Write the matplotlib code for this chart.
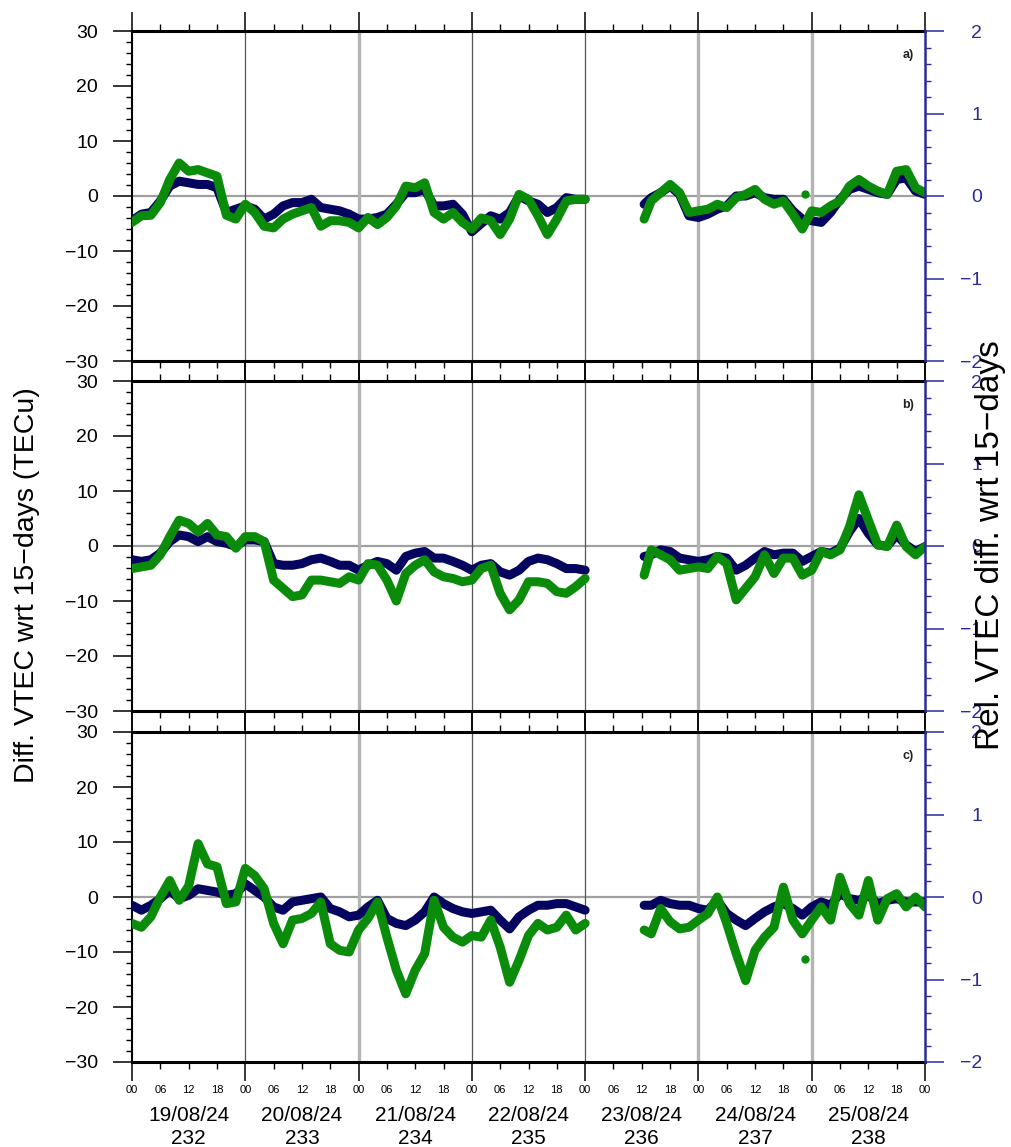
import matplotlib
matplotlib.use("Agg")
import matplotlib.pyplot as plt
from matplotlib.ticker import MultipleLocator

plt.rcParams['font.family'] = ['Liberation Sans', 'DejaVu Sans']

# time axis: hours since 19/08/24 00 UT, gap on 23/08 until ~12:30 UT
hours_1 = list(range(0, 97, 2))
hours_2 = [108.5] + list(range(110, 169, 2))

day_dates = ['19/08/24', '20/08/24', '21/08/24', '22/08/24', '23/08/24', '24/08/24', '25/08/24']
day_doy = ['232', '233', '234', '235', '236', '237', '238']
dark_day_lines = [24, 72, 96]
grey_day_lines = [48, 120, 144]

# panel a)
a_navy_1 = [-4.5, -3.3, -3.0, -0.9, 1.8, 2.7, 2.4, 2.1, 2.1, 1.5,
            -3.0, -2.4, -1.8, -2.4, -4.2, -3.3, -1.8, -1.2, -1.2, -0.6,
            -2.1, -2.4, -2.7, -3.3, -4.2, -4.2, -3.9, -3.3, -1.5, 0.6,
            0.6, 1.2, -1.8, -1.8, -1.5, -3.3, -6.5, -5.0, -3.6, -4.2,
            -3.0, 0.0, -0.9, -1.5, -3.0, -2.1, -0.3, -0.6, -0.6]
a_green_1 = [-4.8, -3.6, -3.5, -1.2, 3.0, 6.0, 4.5, 4.8, 4.2, 3.6,
             -3.5, -4.2, -1.5, -3.0, -5.5, -5.8, -4.2, -3.3, -2.7, -2.1,
             -5.5, -4.5, -4.5, -4.8, -5.8, -3.9, -5.2, -3.9, -1.8, 1.8,
             1.5, 2.4, -3.0, -4.2, -3.0, -4.8, -6.0, -4.0, -4.5, -7.0,
             -4.2, 0.3, -0.6, -3.6, -7.0, -4.2, -0.9, -0.6, -0.6]
a_navy_2 = [-1.5, -0.3, 0.6, 1.8, 0.3, -3.6, -3.9, -3.3, -2.4, -1.8,
            0.0, 0.0, 0.6, -0.3, -0.6, -0.6, -2.7, -4.2, -4.5, -4.8,
            -3.0, -0.6, 1.2, 1.8, 1.2, 0.6, 0.3, 3.0, 3.3, 0.9, 0.3]
a_green_2 = [-4.2, -0.9, 0.6, 2.1, 0.6, -3.0, -2.7, -2.4, -1.5, -2.1,
             -0.3, 0.3, 1.2, -0.6, -1.5, -0.9, -3.3, -6.0, -2.7, -3.0,
             -1.8, -0.9, 1.8, 3.0, 1.8, 0.9, 0.3, 4.5, 4.8, 1.5, 0.6]
a_green_odd_h = [142.6]
a_green_odd_v = [0.3]

# panel b)
b_navy_1 = [-2.5, -2.8, -2.5, -1.3, 0.8, 2.0, 1.7, 0.8, 1.7, 0.8,
            0.5, -0.1, 1.1, 1.1, 0.8, -3.2, -3.5, -3.5, -3.2, -2.5,
            -2.2, -2.8, -3.5, -3.5, -4.4, -3.5, -2.8, -3.2, -4.4, -1.9,
            -1.3, -1.0, -2.2, -2.2, -2.8, -3.5, -4.4, -3.5, -3.2, -4.7,
            -5.3, -4.4, -2.8, -2.2, -2.5, -3.2, -4.1, -4.1, -4.4]
b_green_1 = [-4.1, -3.8, -3.5, -1.6, 1.7, 4.7, 4.1, 2.6, 4.1, 2.0,
             1.7, -0.4, 1.7, 1.7, 0.8, -6.2, -7.7, -9.2, -8.9, -6.2,
             -6.2, -6.5, -6.8, -5.6, -6.2, -3.2, -3.5, -6.2, -10.0, -5.0,
             -3.5, -2.5, -4.7, -5.6, -5.9, -6.5, -6.2, -4.1, -3.5, -8.6,
             -11.6, -9.8, -6.5, -6.5, -6.8, -8.3, -8.6, -7.4, -5.9]
b_navy_2 = [-1.9, -1.6, -0.7, -1.0, -2.2, -2.5, -2.8, -2.5, -1.9, -2.2,
            -4.4, -3.5, -2.2, -1.0, -1.6, -1.3, -1.3, -2.8, -1.9, -1.0,
            -1.3, -0.4, 2.6, 5.0, 2.3, 0.2, 0.0, 2.0, 0.2, -1.0, -0.1]
b_green_2 = [-5.3, -0.7, -1.6, -2.5, -4.4, -4.1, -3.8, -4.1, -1.9, -3.2,
             -9.8, -7.7, -5.6, -1.6, -5.0, -2.2, -2.2, -5.3, -4.4, -1.0,
             -1.6, -0.7, 3.5, 9.3, 4.7, 0.2, -0.1, 3.8, -0.1, -1.6, -0.1]

# panel c)
c_navy_1 = [-1.5, -2.4, -1.5, -0.3, 1.2, -0.3, 0.3, 1.5, 1.2, 0.9,
            0.3, 0.6, 2.4, 1.2, 0.0, -1.8, -2.4, -0.9, -0.6, -0.3,
            0.0, -2.1, -2.7, -3.6, -3.3, -1.8, -0.6, -3.9, -4.8, -5.2,
            -4.2, -2.7, 0.0, -1.2, -2.1, -2.7, -3.0, -2.7, -2.4, -4.2,
            -5.8, -3.6, -2.4, -1.5, -1.5, -1.2, -1.2, -1.8, -2.4]
c_green_1 = [-4.8, -5.5, -3.6, 0.0, 3.0, -0.6, 2.0, 9.7, 6.0, 5.5,
             -1.2, -0.9, 5.2, 3.9, 1.5, -4.8, -8.5, -4.2, -3.9, -3.0,
             -0.9, -8.5, -9.7, -10.0, -6.0, -3.9, -0.9, -7.3, -13.3, -17.6,
             -13.3, -10.3, -0.6, -5.5, -7.3, -8.2, -7.0, -7.3, -4.2, -9.1,
             -15.5, -11.5, -7.0, -4.8, -6.0, -5.5, -3.3, -6.0, -4.8]
c_navy_2 = [-1.5, -1.5, -0.6, -1.2, -1.5, -1.5, -2.1, -2.4, -0.6, -3.0,
            -4.2, -5.2, -3.9, -2.7, -1.8, -1.2, -2.1, -3.3, -1.8, -0.9,
            -1.5, 0.6, -0.3, -0.6, 0.3, -1.2, -0.6, -0.3, -0.9, -0.9, -0.9]
c_green_2 = [-6.0, -6.7, -2.1, -4.5, -5.8, -5.5, -4.2, -3.0, 0.0, -4.8,
             -10.3, -15.2, -9.7, -7.3, -5.5, 1.8, -4.2, -6.7, -4.2, -1.8,
             -4.2, 3.6, -1.2, -3.3, 3.0, -4.2, -0.3, 0.6, -1.8, 0.0, -1.8]
c_green_odd_h = [142.6]
c_green_odd_v = [-11.2]

NAVY = '#05055f'
GREEN = '#0a8c0a'
BLUE = '#2a2a9c'


def draw_panel(fig, rect, navy_1, green_1, navy_2, green_2, label,
               odd_h=None, odd_v=None, bottom_labels=False):
    ax = fig.add_axes(rect)
    ax.set_xlim(0, 168)
    ax.set_ylim(-30, 30)

    ax.axhline(0, color='#a0a0a0', lw=1.6, zorder=1)
    for h in dark_day_lines:
        ax.axvline(h, color='#555555', lw=0.9, zorder=1)
    for h in grey_day_lines:
        ax.axvline(h, color='#b4b4b4', lw=2.4, zorder=1)

    for hrs, navy, green in [(hours_1, navy_1, green_1), (hours_2, navy_2, green_2)]:
        ax.plot(hrs, navy, color=NAVY, lw=6.5, solid_capstyle='round',
                solid_joinstyle='round', zorder=3)
        ax.plot(hrs, green, color=GREEN, lw=6.5, solid_capstyle='round',
                solid_joinstyle='round', zorder=4)
    if odd_h:
        ax.plot(odd_h, odd_v, 'o', color=GREEN, ms=6, mec='none', zorder=4)

    # x axis: days and 6-hour minor ticks, both top and bottom
    ax.set_xticks(range(0, 169, 24))
    minor = [h for h in range(0, 169, 6) if h % 24]
    ax.set_xticks(minor, minor=True)
    ax.tick_params(axis='x', which='major', direction='out', length=13.5, width=1.1,
                   top=True, bottom=True, pad=3.0, labelsize=8)
    ax.tick_params(axis='x', which='minor', direction='out', length=5, width=1.0,
                   top=True, bottom=True, pad=11.5, labelsize=8)
    if bottom_labels:
        ax.set_xticklabels(['00'] * 8)
        ax.set_xticklabels(['%02d' % (h % 24) for h in minor], minor=True)
        for i in range(7):
            ax.text(12 + 24 * i, -0.163, day_dates[i], transform=ax.get_xaxis_transform(),
                    ha='center', va='center', fontsize=15)
            ax.text(12 + 24 * i, -0.232, day_doy[i], transform=ax.get_xaxis_transform(),
                    ha='center', va='center', fontsize=15)
    else:
        ax.tick_params(axis='x', which='both', labelbottom=False)

    ax.yaxis.set_major_locator(MultipleLocator(10))
    ax.yaxis.set_minor_locator(MultipleLocator(2))
    ax.tick_params(axis='y', which='major', direction='out', length=14, width=1.1,
                   pad=10.5, labelsize=14)
    ax.tick_params(axis='y', which='minor', direction='out', length=4.5, width=1.0)

    for side in ['top', 'bottom']:
        ax.spines[side].set_linewidth(2.2)
    ax.spines['left'].set_linewidth(1.5)
    ax.spines['right'].set_visible(False)

    ax.text(0.986, 0.927, label, transform=ax.transAxes, ha='right', va='center',
            fontsize=9, fontweight='bold', color='#222222')

    ax2 = ax.twinx()
    ax2.set_ylim(-2, 2)
    ax2.yaxis.set_major_locator(MultipleLocator(1))
    ax2.yaxis.set_minor_locator(MultipleLocator(0.2))
    ax2.tick_params(axis='y', which='major', direction='out', length=14, width=1.1,
                    color=BLUE, labelcolor=BLUE, pad=27, labelsize=14)
    ax2.tick_params(axis='y', which='minor', direction='out', length=4.5, width=1.0,
                    color=BLUE)
    ax2.set_yticks([-2, -1, 0, 1, 2])
    ax2.set_yticklabels(['\u22122', '\u22121', '0', '1', '2'])
    for lab in ax2.get_yticklabels():
        lab.set_ha('right')
    for side in ['top', 'bottom', 'left']:
        ax2.spines[side].set_visible(False)
    ax2.spines['right'].set_color(BLUE)
    ax2.spines['right'].set_linewidth(1.8)
    return ax


fig = plt.figure(figsize=(10.12, 11.47), dpi=100)

left = 132 / 1012
width = 793 / 1012
height = 330 / 1147

draw_panel(fig, [left, 1 - 361 / 1147, width, height],
           a_navy_1, a_green_1, a_navy_2, a_green_2, 'a)', a_green_odd_h, a_green_odd_v)
draw_panel(fig, [left, 1 - 711 / 1147, width, height],
           b_navy_1, b_green_1, b_navy_2, b_green_2, 'b)')
draw_panel(fig, [left, 1 - 1062 / 1147, width, height],
           c_navy_1, c_green_1, c_navy_2, c_green_2, 'c)', c_green_odd_h, c_green_odd_v,
           bottom_labels=True)

fig.text(0.027, 0.49, 'Diff. VTEC wrt 15\u2212days (TECu)', rotation=90,
         ha='center', va='center', fontsize=20.5)
fig.text(0.979, 0.525, 'Rel. VTEC diff. wrt 15\u2212days', rotation=90,
         ha='center', va='center', fontsize=24)

fig.savefig('out.png', dpi=100)
